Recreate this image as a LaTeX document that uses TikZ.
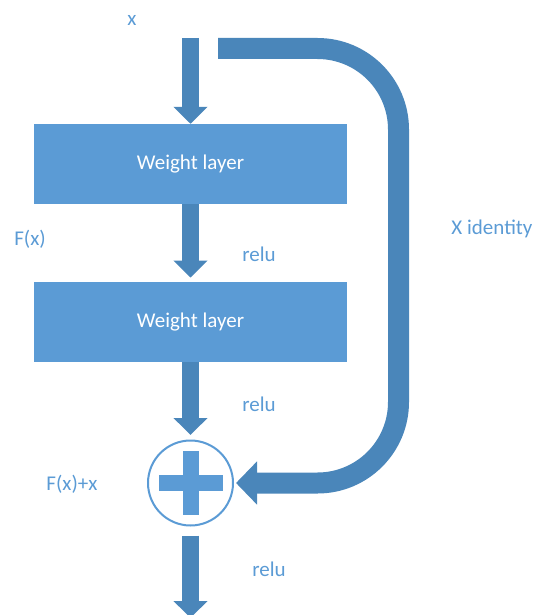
\documentclass[tikz,border=0pt]{standalone}
\usepackage{fontspec}
\setmainfont{Carlito}
\usetikzlibrary{arrows.meta,positioning,calc}
\definecolor{resblue}{HTML}{5B9BD5}
\definecolor{resdark}{HTML}{4A86BA}

\begin{document}
\begin{tikzpicture}[
    x=1pt, y=-1pt,
    font=\fontsize{21}{25}\selectfont,
    layer/.style={
        fill=resblue,
        minimum width=313pt,
        minimum height=80pt,
        inner sep=0pt,
        text=white
    },
    adder/.style={
        circle,
        draw=resblue,
        fill=white,
        line width=2pt,
        minimum size=85pt,
        inner sep=0pt
    },
    lbl/.style={text=resblue},
    flow/.style={-{Triangle[width=33pt,length=17pt]},line width=17pt,resdark},
    skip/.style={-{Triangle[width=42pt,length=21pt]},line width=21pt,resdark,rounded corners=81pt}
]
\useasboundingbox (0,0) rectangle (544,615);

% Weight layers
\node[layer] (w1) at (190.5,164) {Weight layer};
\node[layer] (w2) at (190.5,321.75) {Weight layer};

% Addition
\node[adder] (sum) at (190.5,483) {};
\fill[resblue] ($(sum)+(-32,-8)$) rectangle ($(sum)+(32,8)$);
\fill[resblue] ($(sum)+(-8,-32)$) rectangle ($(sum)+(8,32)$);

% Free ends
\coordinate (xin) at (190.5,38);
\coordinate (out) at (190.5,618);
\coordinate (idin) at (218,48.5);
\coordinate (idturn) at (398.5,48.5);

% Main flow
\draw[flow] (xin) -- (w1.north);
\draw[flow,shorten >=4pt] (w1.south) -- (w2.north);
\draw[flow,shorten >=4.5pt] (w2.south) -- (sum.north);
\draw[flow,shorten <=9pt] (sum.south) -- (out);

% Identity shortcut
\draw[skip,shorten >=2pt] (idin) -- (idturn) |- (sum.east);

% Labels
\node[lbl] (xlbl) at (132,20) {x};
\node[lbl] (fx) at (30,239) {F(x)};
\node[lbl] (relu1) at (259,254) {relu};
\node[lbl] (relu2) at (259,404) {relu};
\node[lbl] (relu3) at (269,569) {relu};
\node[lbl] (ident) at (492,229) {X identity};
\node[lbl] (fxx) at (72,484) {F(x)+x};

\end{tikzpicture}
\end{document}
